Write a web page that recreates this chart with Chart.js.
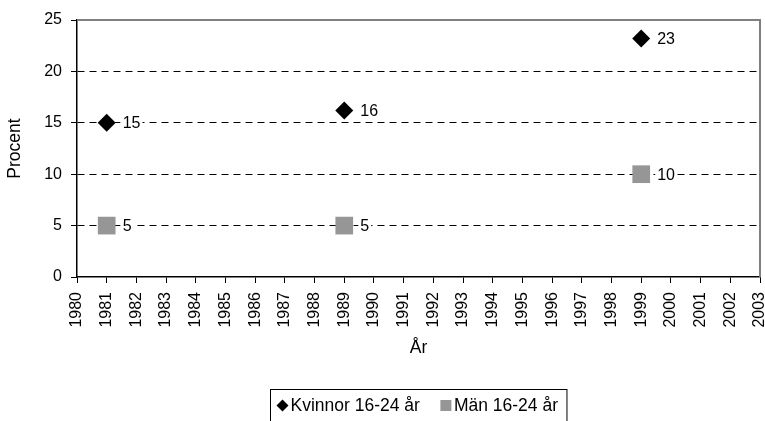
<!DOCTYPE html>
<html>
<head>
<meta charset="utf-8">
<title>Procent 16-24 år</title>
<script src="https://cdn.jsdelivr.net/npm/chart.js@4/dist/chart.umd.min.js"></script>
<style>
  html, body { margin: 0; padding: 0; background: #fff; }
  #wrap { width: 765px; height: 421px; position: relative; }
</style>
</head>
<body>
<div id="wrap"><canvas id="c" width="765" height="421"></canvas></div>
<script>
// Survey years and shares (percent) per group
const years = [1981, 1989, 1999];
const kvinnor = [15, 16.2, 23.2];
const man = [5, 5, 10];
const seriesNames = ['Kvinnor 16-24 år', 'Män 16-24 år'];
const yearTicks = [1980, 1981, 1982, 1983, 1984, 1985, 1986, 1987, 1988, 1989, 1990, 1991,
                   1992, 1993, 1994, 1995, 1996, 1997, 1998, 1999, 2000, 2001, 2002, 2003];
const percentTicks = [0, 5, 10, 15, 20, 25];

const FONT = "'Liberation Sans', Arial, sans-serif";
const TICK_FS = 16;
const TITLE_FS = 17.5;
const LEGEND_FS = 17.5;

const points = (ys) => years.map((x, i) => ({ x: x, y: ys[i] }));
const noPadding = () => ({ left: 0, top: 0, right: 0, bottom: 0 });

// Value labels beside each marker, on a white patch that breaks the grid line
const valueLabels = {
  id: 'valueLabels',
  afterDatasetsDraw(chart) {
    const ctx = chart.ctx;
    ctx.save();
    ctx.font = TICK_FS + 'px ' + FONT;
    ctx.textBaseline = 'middle';
    ctx.textAlign = 'left';
    chart.data.datasets.forEach((ds, di) => {
      const meta = chart.getDatasetMeta(di);
      meta.data.forEach((pt, i) => {
        const txt = String(Math.round(ds.data[i].y));
        const x = pt.x + 16, y = pt.y;
        const w = ctx.measureText(txt).width;
        ctx.fillStyle = '#fff';
        ctx.fillRect(x - 2, y - 8, w + 4, 16);
        ctx.fillStyle = '#000';
        ctx.fillText(txt, x, y + 1);
      });
    });
    ctx.restore();
  }
};

// Grey top and right frame of the plot area
const frame = {
  id: 'frame',
  beforeDatasetsDraw(chart) {
    const { ctx, chartArea: a } = chart;
    ctx.save();
    ctx.strokeStyle = '#808080';
    ctx.lineWidth = 2;
    ctx.beginPath();
    ctx.moveTo(a.left, a.top);
    ctx.lineTo(a.right, a.top);
    ctx.lineTo(a.right, a.bottom);
    ctx.stroke();
    ctx.restore();
  }
};

// Boxed legend centred under the plot
const boxedLegend = {
  id: 'boxedLegend',
  afterDraw(chart) {
    const { ctx, chartArea: a } = chart;
    ctx.save();
    ctx.font = LEGEND_FS + 'px ' + FONT;
    ctx.textBaseline = 'middle';
    const padL = 6, padR = 9, marker = 12, gap = 2, between = 20;
    const widths = seriesNames.map(n => ctx.measureText(n).width);
    const total = padL + padR + widths.reduce((s, w) => s + marker + gap + w, 0) + between * (seriesNames.length - 1);
    const left = Math.round((a.left + a.right) / 2 - total / 2) + 0.5;
    const top = 389.5;
    ctx.strokeStyle = '#000';
    ctx.lineWidth = 1;
    ctx.strokeRect(left, top, total, 50);
    const cy = top + 16;
    let x = left + padL;
    seriesNames.forEach((name, i) => {
      const ds = chart.data.datasets[i];
      ctx.fillStyle = ds.backgroundColor;
      const cx = x + marker / 2;
      if (ds.pointStyle === 'rectRot') {
        ctx.beginPath();
        ctx.moveTo(cx - 6, cy);
        ctx.lineTo(cx, cy - 6);
        ctx.lineTo(cx + 6, cy);
        ctx.lineTo(cx, cy + 6);
        ctx.closePath();
        ctx.fill();
      } else {
        ctx.fillRect(cx - 5.5, cy - 5.5, 11, 11);
      }
      ctx.fillStyle = '#000';
      ctx.textAlign = 'left';
      ctx.fillText(name, x + marker + gap, cy + 1);
      x += marker + gap + widths[i] + between;
    });
    ctx.restore();
  }
};

new Chart(document.getElementById('c'), {
  type: 'scatter',
  data: {
    datasets: [
      {
        label: seriesNames[0],
        data: points(kvinnor),
        pointStyle: 'rectRot',
        pointRadius: 9,
        pointHoverRadius: 9,
        backgroundColor: '#000000',
        borderColor: '#000000',
        borderWidth: 0
      },
      {
        label: seriesNames[1],
        data: points(man),
        pointStyle: 'rect',
        pointRadius: 12.5,
        pointHoverRadius: 12.5,
        backgroundColor: '#969696',
        borderColor: '#969696',
        borderWidth: 0
      }
    ]
  },
  options: {
    responsive: false,
    animation: false,
    events: [],
    layout: { autoPadding: false, padding: { top: 20, right: 5, left: 0, bottom: 60 } },
    plugins: {
      legend: { display: false },
      tooltip: { enabled: false }
    },
    scales: {
      x: {
        type: 'linear',
        min: yearTicks[0],
        max: yearTicks[yearTicks.length - 1],
        afterBuildTicks: (s) => { s.ticks = yearTicks.map(v => ({ value: v })); },
        afterFit: (s) => {
          s.height = 84;
          s.paddingLeft = 0;
          s.paddingRight = 0;
          s.getPadding = noPadding;
        },
        ticks: {
          autoSkip: false,
          minRotation: 90,
          maxRotation: 90,
          padding: 9,
          color: '#000',
          font: { family: FONT, size: TICK_FS },
          callback: (v) => String(v)
        },
        grid: {
          drawOnChartArea: false,
          drawTicks: true,
          tickLength: 6,
          tickColor: '#000',
          tickWidth: 1
        },
        border: { display: true, color: '#000', width: 1.5 },
        title: {
          display: true,
          text: 'År',
          color: '#000',
          font: { family: FONT, size: TITLE_FS },
          padding: { top: 0, bottom: 2 }
        }
      },
      y: {
        min: percentTicks[0],
        max: percentTicks[percentTicks.length - 1],
        afterBuildTicks: (s) => { s.ticks = percentTicks.map(v => ({ value: v })); },
        afterFit: (s) => {
          s.width = 77;
          s.paddingTop = 0;
          s.paddingBottom = 0;
          s.getPadding = noPadding;
        },
        ticks: {
          padding: 9,
          color: '#000',
          font: { family: FONT, size: TICK_FS }
        },
        grid: {
          color: (c) => (c.tick && (c.tick.value === 0 || c.tick.value === 25)) ? 'rgba(0,0,0,0)' : '#000',
          lineWidth: 1,
          drawTicks: true,
          tickLength: 6,
          tickColor: '#000',
          tickWidth: 1,
          tickBorderDash: []
        },
        border: { display: true, color: '#000', width: 1.5, dash: [7, 5] },
        title: {
          display: true,
          text: 'Procent',
          color: '#000',
          font: { family: FONT, size: TITLE_FS },
          padding: { top: 5, bottom: 0 }
        }
      }
    }
  },
  plugins: [frame, valueLabels, boxedLegend]
});
</script>
</body>
</html>
